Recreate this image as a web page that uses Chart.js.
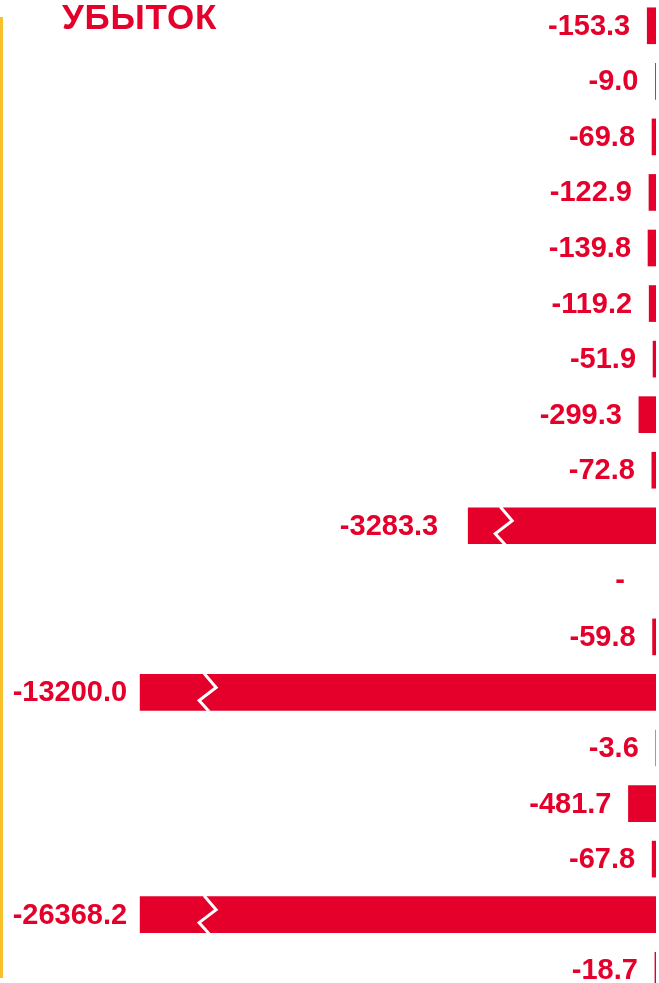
<!DOCTYPE html>
<html>
<head>
<meta charset="utf-8">
<script src="https://cdn.jsdelivr.net/npm/chart.js@4/dist/chart.umd.min.js"></script>
<style>
  html, body { margin: 0; padding: 0; background: #ffffff; width: 659px; height: 983px; overflow: hidden; }
  #wrap { position: relative; width: 659px; height: 983px; overflow: hidden; }
  #title { position: absolute; left: 62px; top: -1px; font: bold 35px "Liberation Sans", Arial, sans-serif; line-height: 35px; letter-spacing: 0.8px; color: #E4002B; white-space: nowrap; }
  #rule { position: absolute; left: 0; top: 17px; width: 3px; height: 961px; background: #F9C02A; }
  #c { position: absolute; left: 0; top: -2px; }
</style>
</head>
<body>
<div id="wrap">
  <canvas id="c" width="659" height="1000"></canvas>
  <div id="rule"></div>
  <div id="title">УБЫТОК</div>
</div>
<script>
const categories = ['1','2','3','4','5','6','7','8','9','10','11','12','13','14','15','16','17','18'];
const lossValues = [-153.3, -9.0, -69.8, -122.9, -139.8, -119.2, -51.9, -299.3, -72.8, -3283.3, null, -59.8, -13200.0, -3.6, -481.7, -67.8, -26368.2, -18.7];
const axisMin = -11470;
const breakCap = -9020;
const breakThreshold = -1000;

const RED = '#E4002B';
const shownValues = lossValues.map(v => v === null ? null : Math.max(v, breakCap));

const labelPlugin = {
  id: 'valueLabels',
  afterDatasetsDraw(chart) {
    const ctx = chart.ctx;
    const meta = chart.getDatasetMeta(0);
    const xScale = chart.scales.x;
    const zeroX = xScale.getPixelForValue(0);
    ctx.save();
    // break marks
    meta.data.forEach((el, i) => {
      const v = lossValues[i];
      if (v === null || v > breakThreshold) return;
      const capped = v < breakCap;
      const left = Math.min(el.x, el.base);
      const top = el.y - el.height / 2;
      const bottom = el.y + el.height / 2;
      const xm = left + (capped ? 64 : 32);
      ctx.strokeStyle = '#ffffff';
      ctx.lineWidth = 3;
      ctx.lineJoin = 'miter';
      ctx.beginPath();
      ctx.moveTo(xm, top - 1);
      ctx.lineTo(xm + 12, top + 13);
      ctx.lineTo(xm - 5, top + 26);
      ctx.lineTo(xm + 5, bottom + 1);
      ctx.stroke();
    });
    // labels
    ctx.fillStyle = RED;
    ctx.font = 'bold 29px "Liberation Sans", Arial, sans-serif';
    ctx.textAlign = 'right';
    ctx.textBaseline = 'middle';
    meta.data.forEach((el, i) => {
      const v = lossValues[i];
      const y = chart.scales.y.getPixelForValue(i);
      if (v === null) {
        ctx.fillText('-', zeroX - 31, y);
        return;
      }
      const left = Math.min(el.x, el.base);
      let gap = 17;
      if (v < breakCap) gap = 13;
      else if (v <= breakThreshold) gap = 30;
      ctx.fillText(v.toFixed(1), left - gap, y + 1);
    });
    ctx.restore();
  }
};

new Chart(document.getElementById('c'), {
  type: 'bar',
  data: {
    labels: categories,
    datasets: [{
      data: shownValues,
      backgroundColor: RED,
      borderWidth: 0,
      barThickness: 36
    }]
  },
  options: {
    indexAxis: 'y',
    responsive: false,
    devicePixelRatio: 1,
    animation: false,
    layout: { padding: { left: 0, right: 3, top: 0, bottom: 0 } },
    plugins: { legend: { display: false }, tooltip: { enabled: false }, title: { display: false } },
    scales: {
      x: { min: axisMin, max: 0, display: false },
      y: { display: false }
    }
  },
  plugins: [labelPlugin]
});
</script>
</body>
</html>
